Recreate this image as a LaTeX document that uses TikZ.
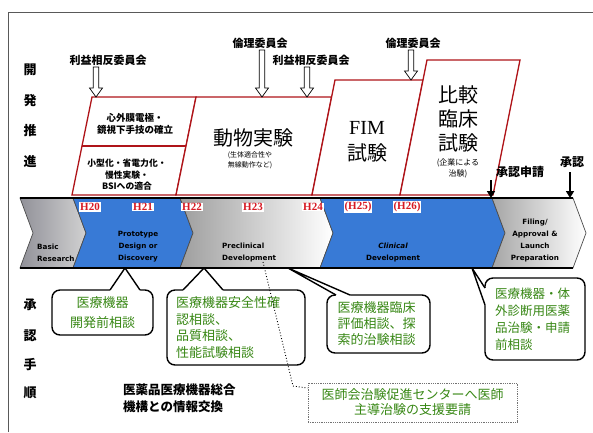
\documentclass[tikz,border=0pt]{standalone}
\usepackage{fontspec}
\setmainfont{Noto Sans CJK JP}
\newfontfamily\serifH{Liberation Serif}
\newfontfamily\bandfont{DejaVu Sans}
\usetikzlibrary{arrows.meta,calc}
\definecolor{boxred}{RGB}{175,20,25}
\definecolor{hred}{RGB}{215,25,35}
\definecolor{jgreen}{RGB}{55,135,20}
\definecolor{bandblue}{RGB}{56,122,214}
\definecolor{bandgray}{RGB}{145,145,153}
\newcommand\hollowarrow[3]{%
  \draw[fill=white, line width=0.7pt, line join=miter]
    ({#1-2.8},#2) -- ({#1+2.8},#2) -- ({#1+2.8},{#3-9}) -- ({#1+6.5},{#3-9})
    -- (#1,#3) -- ({#1-6.5},{#3-9}) -- ({#1-2.8},{#3-9}) -- cycle;}
\begin{document}
\begin{tikzpicture}[x=1pt,y=-1pt,
  vlbl/.style={inner sep=0pt, font=\bfseries\fontsize{13}{13}\selectfont},
  committee/.style={inner sep=0pt, font=\bfseries\fontsize{11}{11}\selectfont},
  redbox/.style={draw=boxred, line width=1.3pt, fill=white, line join=miter},
  boxtxt/.style={inner sep=0pt, align=center},
  hlab/.style={text=hred, fill=white, inner sep=0.8pt, font=\serifH\bfseries\fontsize{11}{11}\selectfont},
  seg/.style={draw=black!70, line width=0.7pt},
  segtext/.style={font=\bandfont\bfseries\fontsize{7.2}{12}\selectfont, align=center, inner sep=0pt},
  bubble/.style={draw=black, line width=1.4pt, fill=white, rounded corners=8pt, text=jgreen, inner sep=0pt},
  bubline/.style={draw=black, line width=1.4pt, line join=round},
  solidarrow/.style={line width=1.6pt, -{Triangle[length=7pt,width=8pt]}}
]
\useasboundingbox (0,0) rectangle (593,432);
% frame
\draw[black!65, line width=0.8pt] (8,432) -- (8,12) -- (593,12);

% vertical labels
\node[vlbl] (v1) at (30,70) {開};
\node[vlbl] (v2) at (30,101) {発};
\node[vlbl] (v3) at (30,131) {推};
\node[vlbl] (v4) at (30,162) {進};
\node[vlbl] (w1) at (30,305) {承};
\node[vlbl] (w2) at (30,336) {認};
\node[vlbl] (w3) at (30,365) {手};
\node[vlbl] (w4) at (30,393) {順};

% top boxes
\draw[redbox] (92,97) -- (196,97) -- (176,195) -- (72,195) -- cycle;
\draw[boxred, line width=1.3pt] (82,146) -- (186,146);
\draw[redbox] (196,97) -- (331.6,97) -- (312,195) -- (176,195) -- cycle;
\draw[redbox] (335,80) -- (423,80) -- (400,195) -- (312,195) -- cycle;
\draw[redbox] (427,60) -- (520,60) -- (493,195) -- (400,195) -- cycle;

\node[boxtxt, font=\bfseries\fontsize{9.5}{12}\selectfont] (t1a) at (135,124) {心外膜電極・\\鏡視下手技の確立};
\node[boxtxt, font=\bfseries\fontsize{8.8}{11.5}\selectfont] (t1b) at (127,175) {小型化・省電力化・\\慢性実験・\\BSIへの適合};
\node[boxtxt, font=\fontsize{20}{20}\selectfont] (t2) at (253,138) {動物実験};
\node[boxtxt, font=\fontsize{7}{10}\selectfont] (t2s) at (250,160) {(生体適合性や\\無線動作など)};
\node[boxtxt, font=\serifH\fontsize{20}{20}\selectfont] (t3a) at (367,128) {FIM};
\node[boxtxt, font=\fontsize{20}{20}\selectfont] (t3b) at (367,153) {試験};
\node[boxtxt, font=\fontsize{20}{24}\selectfont] (t4) at (458,119) {比較\\臨床\\試験};
\node[boxtxt, font=\fontsize{8}{11}\selectfont] (t4s) at (458,168) {(企業による\\治験)};

% committee labels and hollow arrows
\node[committee] (c1) at (108,60) {利益相反委員会};
\node[committee] (c2) at (260,43) {倫理委員会};
\node[committee] (c3) at (311,60) {利益相反委員会};
\node[committee] (c4) at (413,43) {倫理委員会};
\hollowarrow{96}{67}{97}
\hollowarrow{262}{50}{97}
\hollowarrow{307}{67}{97}
\hollowarrow{411}{50}{80}

% band
\path[seg, left color=bandgray, right color=black!18] (20,198) -- (73,198) -- (86,233) -- (73,268) -- (20,268) -- (33,233) -- cycle;
\node[segtext, align=left, anchor=west] (sbasic) at (37,253) {Basic\\Research};
\path[seg, fill=bandblue] (73,198) -- (180,198) -- (193,233) -- (180,268) -- (73,268) -- (86,233) -- cycle;
\path[seg, left color=black!38, right color=white] (180,198) -- (320,198) -- (333,233) -- (320,268) -- (180,268) -- (193,233) -- cycle;
\path[seg, fill=bandblue] (320,198) -- (492,198) -- (505,233) -- (492,268) -- (320,268) -- (333,233) -- cycle;
\path[seg, left color=black!35, right color=white] (492,198) -- (573,198) -- (586,233) -- (573,268) -- (492,268) -- (505,233) -- cycle;
\draw[line width=1.1pt] (20,198) -- (573,198);
\draw[line width=1.6pt] (20,268) -- (573,268);

\node[segtext] (sproto) at (138,247) {Prototype\\Design or\\Discovery};
\node[segtext, align=left, anchor=west] (spre) at (222,253) {Preclinical\\Development};
\node[segtext] (sclin) at (393,253) {\itshape Clinical\\Development};
\node[segtext] (sfil) at (535,240.5) {Filing/\\Approval \&\\Launch\\Preparation};

\node[hlab] (h20) at (90,207) {H20};
\node[hlab] (h21) at (143,207) {H21};
\node[hlab] (h22) at (192,207) {H22};
\node[hlab] (h23) at (253,207) {H23};
\node[hlab] (h24) at (313,207) {H24};
\node[hlab] (h25) at (358,207) {(H25)};
\node[hlab] (h26) at (407,207) {(H26)};

% approval arrows
\node[committee, font=\bfseries\fontsize{12}{12}\selectfont] (a1) at (520,172) {承認申請};
\node[committee, font=\bfseries\fontsize{12}{12}\selectfont] (a2) at (572,162) {承認};
\coordinate (a1t) at (491,198);
\coordinate (a2t) at (570,198);
\draw[solidarrow] (491,180) -- (a1t);
\draw[solidarrow] (570,172) -- (a2t);

% bubbles
\node[bubble, minimum width=101pt, minimum height=45pt, font=\fontsize{13}{20}\selectfont, align=center] (b1) at (102.5,312.5) {医療機器\\開発前相談};
\fill[white] (110,290) -- (125,268) -- (140,290) -- (140,292.5) -- (110,292.5) -- cycle;
\draw[bubline] (110,290) -- (125,268) -- (140,290);

\node[bubble, minimum width=138pt, minimum height=75pt, text width=120pt, align=left, font=\fontsize{13}{16.7}\selectfont] (b2) at (236,327.5) {医療機器安全性確\\認相談、\\品質相談、\\性能試験相談};
\fill[white] (183,290) -- (204,268) -- (223,290) -- (223,292.5) -- (183,292.5) -- cycle;
\draw[bubline] (183,290) -- (204,268) -- (223,290);

\node[bubble, minimum width=103pt, minimum height=58pt, text width=82pt, align=left, font=\fontsize{13}{16}\selectfont] (b3) at (378.5,324) {医療機器臨床\\評価相談、探\\索的治験相談};
\fill[white] (336,295) -- (288,268) -- (350,295) -- (350,297.5) -- (336,297.5) -- cycle;
\draw[bubline] (336,295) -- (288,268) -- (350,295);

\node[bubble, minimum width=100pt, minimum height=82pt, text width=80pt, align=left, font=\fontsize{12.5}{17}\selectfont] (b4) at (535,319) {医療機器・体\\外診断用医薬\\品治験・申請\\前相談};
\fill[white] (485,288) -- (472,268) -- (485,305) -- (487.5,305) -- (487.5,288) -- cycle;
\draw[bubline] (485,288) -- (472,268) -- (485,305);

% info exchange text
\node[inner sep=0pt, align=left, anchor=west, font=\bfseries\fontsize{12.5}{17}\selectfont] (pmda) at (123,398.5) {医薬品医療機器総合\\機構との情報交換};

% dotted note
\node[draw=black!55, densely dotted, line width=0.8pt, minimum width=209pt, minimum height=39pt, text=jgreen, align=center, inner sep=0pt, font=\fontsize{13}{15}\selectfont] (note) at (412.5,402.5) {医師会治験促進センターへ医師\\主導治験の支援要請};
\coordinate (dstart) at (263,262);
\draw[dotted, line width=0.9pt] (dstart) -- (293,386) -- (note.west |- 0,388) ;
\end{tikzpicture}
\end{document}
